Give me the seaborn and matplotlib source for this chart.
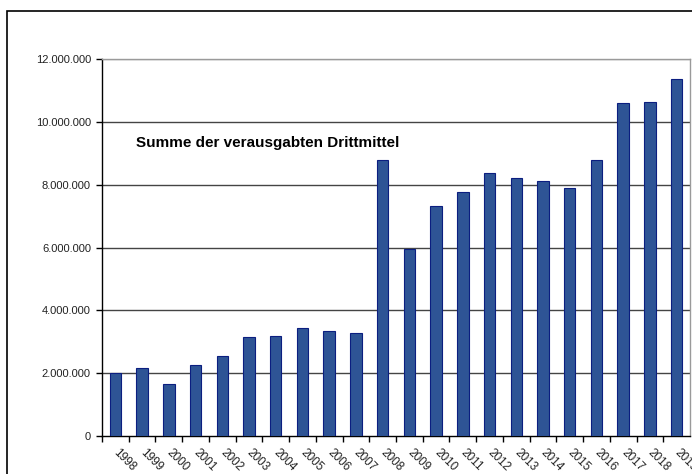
import numpy as np
import pandas as pd
import matplotlib
matplotlib.use("Agg")
import matplotlib.pyplot as plt
from matplotlib.patches import Rectangle
from matplotlib.ticker import FuncFormatter, MultipleLocator
import seaborn as sns

# data
years = [str(y) for y in range(1998, 2020)]
amounts = [
    1990000, 2165000, 1655000, 2260000, 2560000, 3140000, 3190000, 3450000,
    3330000, 3280000, 8770000, 5955000, 7310000, 7760000, 8370000, 8220000,
    8130000, 7900000, 8800000, 10600000, 10640000, 11360000,
]
title = "Summe der verausgabten Drittmittel"

sns.set_style("white")
plt.rcParams["font.family"] = ["Liberation Sans", "DejaVu Sans"]

df = pd.DataFrame({"Jahr": years, "Betrag": amounts})

fig = plt.figure(figsize=(6.92, 4.74), dpi=100)
ax = fig.add_axes([102 / 692, 1 - 436 / 474, 588 / 692, 377 / 474])

# outer chart frame (runs off the picture at right and bottom)
fig.patches.append(
    Rectangle((7 / 692, -0.2), 1.2, 1 - 11 / 474 + 0.2, transform=fig.transFigure,
              fill=False, edgecolor="black", linewidth=1.2, zorder=0)
)

# grid lines
for v in range(2000000, 12000001, 2000000):
    ax.axhline(v, color="#444444" if v < 12000000 else "#9a9a9a", lw=1.0, zorder=1)

sns.barplot(data=df, x="Jahr", y="Betrag", ax=ax, width=0.43,
            color="#2E5495", saturation=1, edgecolor="#0B1E80", linewidth=0.8,
            zorder=3)

ax.set_xlim(-0.5, len(years) - 0.5)
ax.set_ylim(0, 12000000)
ax.yaxis.set_major_locator(MultipleLocator(2000000))
ax.yaxis.set_major_formatter(
    FuncFormatter(lambda v, p: f"{int(v):,}".replace(",", "."))
)
ax.set_xlabel("")
ax.set_ylabel("")

for side in ["top", "right"]:
    ax.spines[side].set_color("#9a9a9a")
    ax.spines[side].set_linewidth(1.0)
for side in ["left", "bottom"]:
    ax.spines[side].set_color("black")
    ax.spines[side].set_linewidth(1.0)

ax.tick_params(axis="y", left=True, length=4, width=1, color="black",
               labelsize=8, labelcolor="#222222", pad=4)
ax.set_xticks(np.arange(len(years)) - 0.5, minor=True)
ax.tick_params(axis="x", which="minor", bottom=True, length=4, width=1,
               color="black")
ax.tick_params(axis="x", which="major", bottom=False, labelsize=8.5,
               labelcolor="#222222", pad=7)
for lab in ax.get_xticklabels():
    lab.set_rotation(-45)
    lab.set_ha("left")
    lab.set_va("center")
    lab.set_rotation_mode("anchor")

fig.text(136 / 692, 1 - 143 / 474, title, fontsize=11, fontweight="bold",
         ha="left", va="center", color="black")

fig.savefig("out.png", dpi=100)
